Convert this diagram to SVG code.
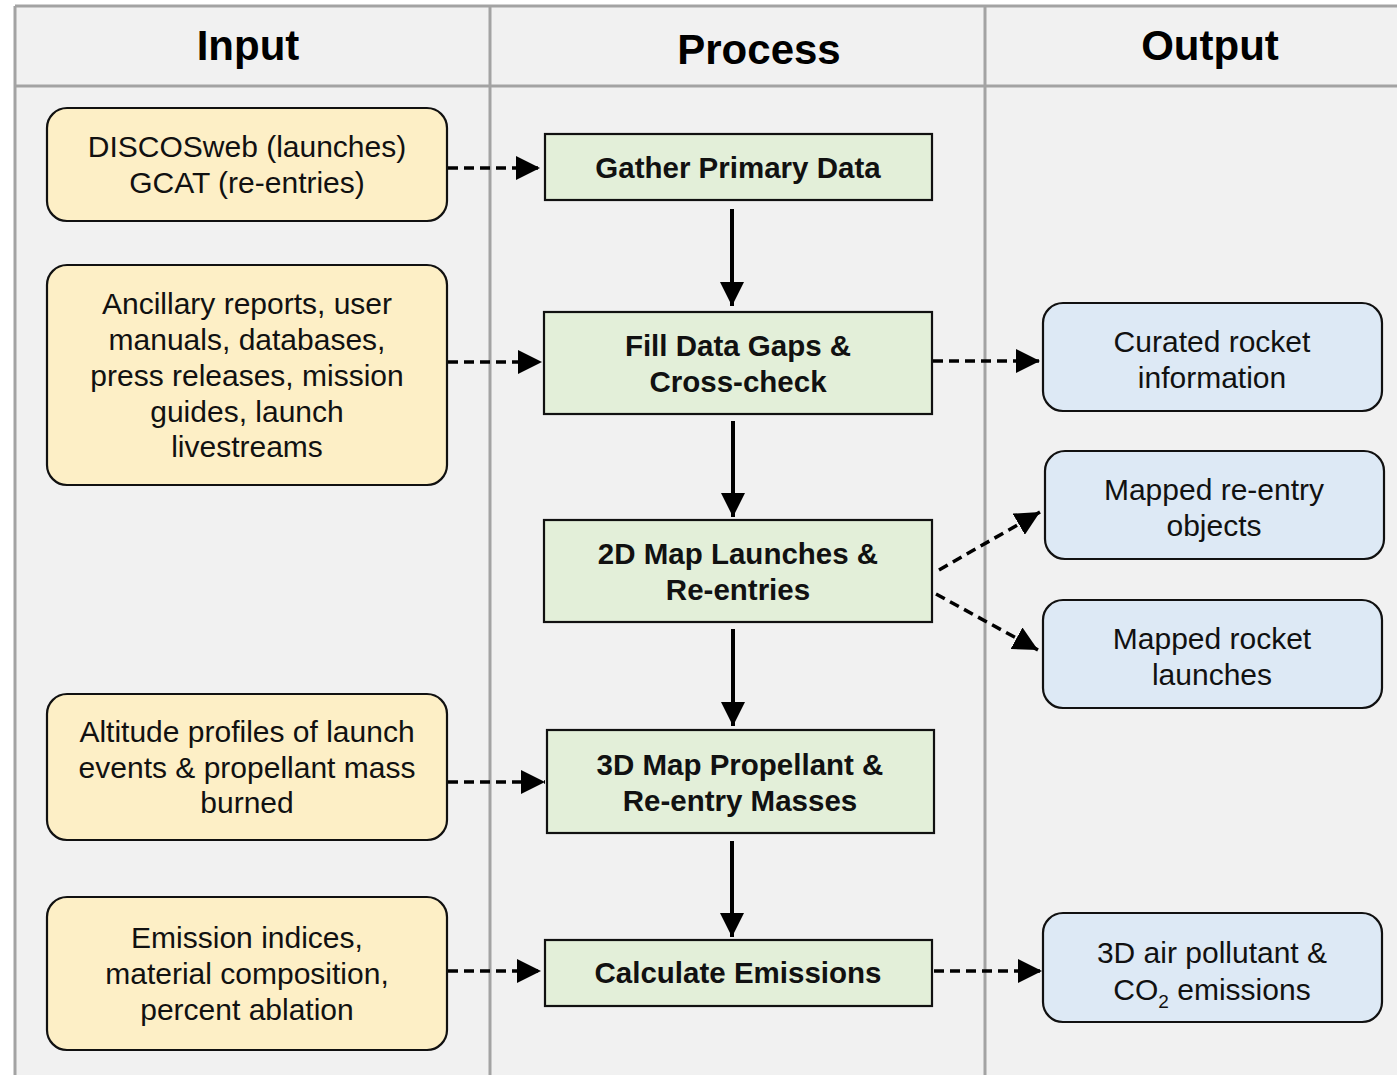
<svg xmlns="http://www.w3.org/2000/svg" width="1397" height="1075" viewBox="0 0 1397 1075">
<defs>
<marker id="ah" viewBox="0 0 10 10" refX="10" refY="5" markerWidth="6" markerHeight="6" markerUnits="strokeWidth" orient="auto">
<path d="M0,0 L10,5 L0,10 z" fill="#000"/>
</marker>
<marker id="ahd" viewBox="0 0 10 10" refX="10" refY="5" markerWidth="7" markerHeight="7" markerUnits="strokeWidth" orient="auto">
<path d="M0,0 L10,5 L0,10 z" fill="#000"/>
</marker>
</defs>
<style>
.grid{stroke:#a3a3a3;stroke-width:3;fill:none}
.in{fill:#fdefc6;stroke:#111;stroke-width:2.2}
.pr{fill:#e3efd9;stroke:#111;stroke-width:2.2}
.out{fill:#dde9f5;stroke:#111;stroke-width:2.2}
.hd{font-family:"Liberation Sans",Arial,sans-serif;font-weight:bold;font-size:42px;fill:#000;text-anchor:middle}
.t{font-family:"Liberation Sans",Arial,sans-serif;font-size:30px;fill:#111;text-anchor:middle}
.tb{font-family:"Liberation Sans",Arial,sans-serif;font-size:29.5px;font-weight:bold;fill:#111;text-anchor:middle}
.solid{stroke:#000;stroke-width:4;fill:none;marker-end:url(#ah)}
.dash{stroke:#000;stroke-width:3.5;fill:none;stroke-dasharray:10 6;marker-end:url(#ahd)}
</style>
<rect x="0" y="0" width="1397" height="1075" fill="#ffffff"/>
<rect x="15" y="6" width="1390" height="1080" fill="#f1f1f1"/>
<g id="grid">
<line class="grid" x1="15" y1="6" x2="1397" y2="6"/>
<line class="grid" x1="15" y1="6" x2="15" y2="1075"/>
<line class="grid" x1="15" y1="86" x2="1397" y2="86"/>
<line class="grid" x1="490" y1="6" x2="490" y2="1075"/>
<line class="grid" x1="985" y1="6" x2="985" y2="1075"/>
</g>
<g id="headers">
<text class="hd" x="248" y="60">Input</text>
<text class="hd" x="759" y="64">Process</text>
<text class="hd" x="1210" y="60">Output</text>
</g>
<g id="in1"><rect class="in" x="47" y="108" width="400" height="113" rx="20"/>
<text class="t" x="247" y="157">DISCOSweb (launches)</text>
<text class="t" x="247" y="193">GCAT (re-entries)</text></g>
<g id="in2"><rect class="in" x="47" y="265" width="400" height="220" rx="20"/>
<text class="t" x="247" y="314">Ancillary reports, user</text>
<text class="t" x="247" y="350">manuals, databases,</text>
<text class="t" x="247" y="386">press releases, mission</text>
<text class="t" x="247" y="422">guides, launch</text>
<text class="t" x="247" y="457">livestreams</text></g>
<g id="in3"><rect class="in" x="47" y="694" width="400" height="146" rx="20"/>
<text class="t" x="247" y="742">Altitude profiles of launch</text>
<text class="t" x="247" y="778">events &amp; propellant mass</text>
<text class="t" x="247" y="813">burned</text></g>
<g id="in4"><rect class="in" x="47" y="897" width="400" height="153" rx="20"/>
<text class="t" x="247" y="948">Emission indices,</text>
<text class="t" x="247" y="984">material composition,</text>
<text class="t" x="247" y="1020">percent ablation</text></g>
<g id="p1"><rect class="pr" x="545" y="134" width="387" height="66"/>
<text class="tb" x="738" y="178">Gather Primary Data</text></g>
<g id="p2"><rect class="pr" x="544" y="312" width="388" height="102"/>
<text class="tb" x="738" y="356">Fill Data Gaps &amp;</text>
<text class="tb" x="738" y="392">Cross-check</text></g>
<g id="p3"><rect class="pr" x="544" y="520" width="388" height="102"/>
<text class="tb" x="738" y="564">2D Map Launches &amp;</text>
<text class="tb" x="738" y="600">Re-entries</text></g>
<g id="p4"><rect class="pr" x="547" y="730" width="387" height="103"/>
<text class="tb" x="740" y="775">3D Map Propellant &amp;</text>
<text class="tb" x="740" y="811">Re-entry Masses</text></g>
<g id="p5"><rect class="pr" x="545" y="940" width="387" height="66"/>
<text class="tb" x="738" y="983">Calculate Emissions</text></g>
<g id="o1"><rect class="out" x="1043" y="303" width="339" height="108" rx="20"/>
<text class="t" x="1212" y="352">Curated rocket</text>
<text class="t" x="1212" y="388">information</text></g>
<g id="o2"><rect class="out" x="1045" y="451" width="339" height="108" rx="20"/>
<text class="t" x="1214" y="500">Mapped re-entry</text>
<text class="t" x="1214" y="536">objects</text></g>
<g id="o3"><rect class="out" x="1043" y="600" width="339" height="108" rx="20"/>
<text class="t" x="1212" y="649">Mapped rocket</text>
<text class="t" x="1212" y="685">launches</text></g>
<g id="o4"><rect class="out" x="1043" y="913" width="339" height="109" rx="20"/>
<text class="t" x="1212" y="963">3D air pollutant &amp;</text>
<text class="t" x="1212" y="1000">CO<tspan font-size="19" dy="8">2</tspan><tspan dy="-8"> emissions</tspan></text></g>
<g id="connectors">
<line class="dash" x1="448" y1="168" x2="540" y2="168"/>
<line class="dash" x1="448" y1="362" x2="542" y2="362"/>
<line class="dash" x1="448" y1="782" x2="545" y2="782"/>
<line class="dash" x1="448" y1="971" x2="541" y2="971"/>
<line class="dash" x1="933" y1="361" x2="1040" y2="361"/>
<line class="dash" x1="939" y1="570" x2="1040" y2="512"/>
<line class="dash" x1="936" y1="594" x2="1038" y2="650"/>
<line class="dash" x1="934" y1="971" x2="1042" y2="971"/>
<line class="solid" x1="732" y1="209" x2="732" y2="306"/>
<line class="solid" x1="733" y1="421" x2="733" y2="517"/>
<line class="solid" x1="733" y1="629" x2="733" y2="726"/>
<line class="solid" x1="732" y1="841" x2="732" y2="937"/>
</g>
</svg>
